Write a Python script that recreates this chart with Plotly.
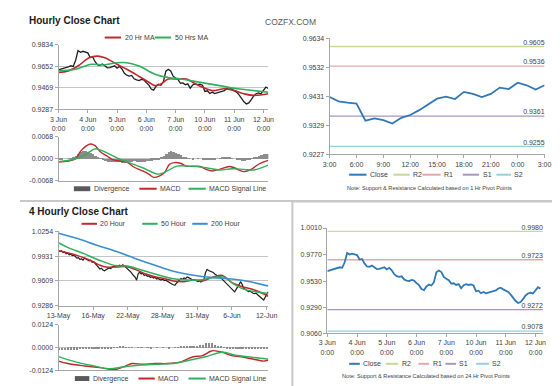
import plotly.graph_objects as go

FONT = "Arial, 'Liberation Sans', sans-serif"
W, H = 560, 386

# ---------------- DATA ----------------
# Hourly chart (hours since 3 Jun 0:00, trading time, 2-hour samples)
hourly_tick_labels = ["3 Jun<br>0:00", "4 Jun<br>0:00", "5 Jun<br>0:00", "6 Jun<br>0:00",
                      "7 Jun<br>0:00", "10 Jun<br>0:00", "11 Jun<br>0:00", "12 Jun<br>0:00"]
hourly_hours = list(range(0, 173, 2))
hourly_close = [0.9620, 0.9628, 0.9635, 0.9640, 0.9645, 0.9655, 0.9650, 0.9700, 0.9785, 0.9770,
                0.9778, 0.9772, 0.9765, 0.9725, 0.9730, 0.9690, 0.9662, 0.9660, 0.9670, 0.9655,
                0.9638, 0.9640, 0.9648, 0.9655, 0.9635, 0.9650, 0.9628, 0.9592, 0.9575, 0.9568,
                0.9573, 0.9545, 0.9535, 0.9530, 0.9540, 0.9535, 0.9512, 0.9493, 0.9458, 0.9449,
                0.9482, 0.9498, 0.9490, 0.9520, 0.9610, 0.9625, 0.9612, 0.9567, 0.9552, 0.9538,
                0.9507, 0.9510, 0.9495, 0.9502, 0.9465, 0.9493, 0.9502, 0.9495, 0.9500, 0.9490,
                0.9438, 0.9443, 0.9420, 0.9432, 0.9420, 0.9425, 0.9432, 0.9435, 0.9445, 0.9463,
                0.9470, 0.9455, 0.9440, 0.9432, 0.9408, 0.9375, 0.9350, 0.9332, 0.9340, 0.9368,
                0.9400, 0.9418, 0.9425, 0.9418, 0.9450, 0.9475, 0.9462]
ma20h_hours = [0, 8, 16, 25, 32, 38, 48, 56, 63, 74, 79, 84, 90, 97, 105, 110, 118, 126, 136, 144, 152, 160, 172]
ma20h_vals = [0.9598, 0.9612, 0.9653, 0.9723, 0.9737, 0.9723, 0.9668, 0.9626, 0.9584, 0.9515, 0.9487, 0.9501,
              0.9543, 0.9543, 0.9543, 0.9515, 0.9473, 0.9445, 0.9460, 0.9445, 0.9418, 0.9404, 0.9418]
ma50h_hours = [0, 14, 27, 37, 48, 56, 66, 79, 90, 100, 116, 132, 147, 160, 172]
ma50h_vals = [0.9612, 0.9626, 0.9668, 0.9662, 0.9681, 0.9681, 0.9653, 0.9584, 0.9556, 0.9543, 0.9515,
              0.9487, 0.9460, 0.9445, 0.9431]
macdh_hours = [0, 8, 14, 18, 22, 26, 30, 34, 40, 44, 50, 56, 61, 69, 74, 78, 83, 87, 91, 95, 100, 105,
               116, 121, 126, 132, 140, 144, 152, 158, 164, 172]
macdh_vals = [-0.0010, -0.0007, 0.0000, 0.0023, 0.0038, 0.0046, 0.0041, 0.0023, 0.0008, -0.0002, -0.0007,
              -0.0010, -0.0024, -0.0038, -0.0048, -0.0058, -0.0053, -0.0043, -0.0017, -0.0012, -0.0014,
              -0.0023, -0.0024, -0.0033, -0.0038, -0.0033, -0.0024, -0.0028, -0.0040, -0.0033, -0.0017, -0.0005]
signalh_hours = [0, 14, 22, 30, 37, 48, 58, 69, 82, 89, 97, 108, 121, 132, 142, 152, 160, 172]
signalh_vals = [-0.0009, 0.0000, 0.0013, 0.0031, 0.0023, 0.0003, -0.0012, -0.0028, -0.0048, -0.0038,
                -0.0023, -0.0023, -0.0028, -0.0035, -0.0031, -0.0033, -0.0035, -0.0020]
divh_vals = [-0.0001, -0.0001, 0.0000, 0.0000, 0.0001, 0.0002, 0.0004, 0.0008, 0.0014, 0.0020,
             0.0023, 0.0024, 0.0022, 0.0018, 0.0014, 0.0010, 0.0006, 0.0002, -0.0003, -0.0007,
             -0.0009, -0.0010, -0.0010, -0.0009, -0.0010, -0.0011, -0.0012, -0.0012, -0.0011, -0.0010,
             -0.0009, -0.0008, -0.0009, -0.0010, -0.0010, -0.0010, -0.0008, -0.0007, -0.0006, -0.0005,
             -0.0003, -0.0001, 0.0003, 0.0008, 0.0015, 0.0021, 0.0024, 0.0022, 0.0019, 0.0015,
             0.0011, 0.0007, 0.0003, 0.0001, 0.0000, -0.0001, 0.0000, 0.0001, 0.0000, -0.0002,
             -0.0004, -0.0005, -0.0005, -0.0004, -0.0002, 0.0000, 0.0002, 0.0004, 0.0005, 0.0004,
             0.0003, 0.0001, 0.0000, -0.0002, -0.0004, -0.0006, -0.0006, -0.0004, -0.0002, 0.0001,
             0.0004, 0.0007, 0.0010, 0.0012, 0.0014, 0.0015, 0.0015]

hourly_y_ticks = ["0.9287", "0.9469", "0.9652", "0.9834"]
macdh_y_ticks = ["-0.0068", "0.0000", "0.0068"]

# Last 24 hours (1 Hr pivots)
last24_tick_labels = ["3:00", "6:00", "9:00", "12:00", "15:00", "18:00", "21:00", "0:00", "3:00"]
last24_hours = list(range(25))
last24_close = [0.9428, 0.9413, 0.9408, 0.9405, 0.9345, 0.9353, 0.9347, 0.9335, 0.9355, 0.9365,
                0.9382, 0.9401, 0.9422, 0.9429, 0.9421, 0.9446, 0.9439, 0.9428, 0.9439, 0.9461,
                0.9456, 0.9478, 0.9469, 0.9454, 0.9469]
last24_y_ticks = ["0.9227", "0.9329", "0.9431", "0.9532", "0.9634"]
pivot_names = ["R2", "R1", "S1", "S2"]
pivots_1h = [0.9605, 0.9536, 0.9361, 0.9255]
pivots_24h = [0.9980, 0.9723, 0.9272, 0.9078]
daily_y_ticks = ["0.9060", "0.9290", "0.9530", "0.9770", "1.0010"]

# 4-hourly chart (bar index from 13 May)
h4_tick_labels = ["13-May", "16-May", "22-May", "28-May", "31-May", "6-Jun", "12-Jun"]
h4_close = [1.0005, 0.9990, 1.0002, 0.9978, 0.9985, 0.9962, 0.9970, 0.9950, 0.9958, 0.9938,
            0.9945, 0.9925, 0.9905, 0.9912, 0.9888, 0.9898, 0.9880, 0.9905, 0.9895, 0.9884,
            0.9870, 0.9878, 0.9852, 0.9858, 0.9830, 0.9805, 0.9790, 0.9765, 0.9775, 0.9752,
            0.9740, 0.9755, 0.9762, 0.9778, 0.9770, 0.9790, 0.9800, 0.9792, 0.9812, 0.9805,
            0.9815, 0.9800, 0.9818, 0.9805, 0.9790, 0.9765, 0.9748, 0.9730, 0.9700, 0.9680,
            0.9660, 0.9620, 0.9700, 0.9725, 0.9700, 0.9710, 0.9680, 0.9692, 0.9670, 0.9675,
            0.9655, 0.9665, 0.9648, 0.9655, 0.9635, 0.9642, 0.9630, 0.9622, 0.9635, 0.9615,
            0.9620, 0.9605, 0.9598, 0.9585, 0.9570, 0.9560, 0.9553, 0.9580, 0.9605, 0.9620,
            0.9640, 0.9628, 0.9648, 0.9640, 0.9660, 0.9652, 0.9640, 0.9630, 0.9618, 0.9625,
            0.9610, 0.9600, 0.9608, 0.9595, 0.9612, 0.9630, 0.9720, 0.9760, 0.9745, 0.9738,
            0.9728, 0.9720, 0.9700, 0.9690, 0.9670, 0.9665, 0.9650, 0.9630, 0.9610, 0.9590,
            0.9574, 0.9560, 0.9530, 0.9510, 0.9490, 0.9468, 0.9500, 0.9532, 0.9560, 0.9600,
            0.9560, 0.9510, 0.9500, 0.9485, 0.9470, 0.9478, 0.9460, 0.9450, 0.9445, 0.9452,
            0.9430, 0.9410, 0.9404, 0.9380, 0.9362, 0.9400, 0.9430, 0.9468]
h4_index = list(range(len(h4_close)))
ma20_4h_idx = [0, 13, 21, 27, 31, 38, 44, 50, 57, 63, 69, 75, 82, 88, 94, 101, 107, 113, 119, 126, 132, 137]
ma20_4h_vals = [1.0000, 0.9935, 0.9875, 0.9815, 0.9790, 0.9790, 0.9795, 0.9760, 0.9700, 0.9665, 0.9640,
                0.9610, 0.9600, 0.9620, 0.9610, 0.9660, 0.9680, 0.9590, 0.9540, 0.9505, 0.9460, 0.9410]
ma50_4h_idx = [0, 6, 17, 27, 38, 44, 52, 63, 75, 84, 94, 101, 109, 114, 120, 129, 137]
ma50_4h_vals = [1.0105, 1.0045, 0.9960, 0.9875, 0.9805, 0.9805, 0.9765, 0.9700, 0.9637, 0.9620, 0.9625,
                0.9655, 0.9655, 0.9574, 0.9510, 0.9468, 0.9446]
ma200_4h_idx = [0, 13, 25, 38, 50, 63, 75, 88, 101, 113, 126, 137]
ma200_4h_vals = [1.0229, 1.0156, 1.0073, 0.9990, 0.9901, 0.9812, 0.9735, 0.9684, 0.9653, 0.9634, 0.9595, 0.9544]
macd4_idx = [0, 6, 17, 27, 33, 38, 44, 48, 55, 63, 71, 80, 84, 88, 94, 99, 101, 107, 113, 121, 130, 134, 137]
macd4_vals = [-0.0074, -0.0087, -0.0100, -0.0109, -0.0118, -0.0118, -0.0100, -0.0087, -0.0091, -0.0087,
              -0.0087, -0.0078, -0.0063, -0.0050, -0.0044, -0.0022, -0.0017, -0.0026, -0.0044, -0.0053,
              -0.0068, -0.0074, -0.0068]
signal4_idx = [0, 11, 21, 33, 42, 52, 65, 75, 86, 96, 107, 115, 126, 137]
signal4_vals = [-0.0050, -0.0078, -0.0096, -0.0115, -0.0106, -0.0096, -0.0091, -0.0087, -0.0068, -0.0050,
                -0.0026, -0.0041, -0.0053, -0.0063]
div4_idx = list(range(0, 137, 2))
div4_vals = [-0.0012, -0.0013, -0.0011, -0.0010, -0.0010, -0.0009, -0.0009, -0.0008, -0.0007, -0.0006,
             -0.0006, -0.0005, -0.0005, -0.0004, -0.0004, -0.0003, -0.0002, -0.0001, 0.0002, 0.0004,
             0.0006, 0.0006, 0.0004, 0.0002, 0.0001, 0.0000, 0.0002, 0.0001, 0.0000, 0.0001,
             -0.0001, 0.0000, 0.0001, 0.0000, 0.0001, 0.0000, -0.0001, 0.0000, 0.0002, 0.0004,
             0.0006, 0.0008, 0.0010, 0.0009, 0.0008, 0.0010, 0.0014, 0.0018, 0.0024, 0.0026,
             0.0024, 0.0018, 0.0012, 0.0006, 0.0002, -0.0002, -0.0004, -0.0005, -0.0003, -0.0002,
             -0.0003, -0.0004, -0.0005, -0.0004, -0.0005, -0.0006, -0.0005, -0.0004, -0.0003]
h4_y_ticks = ["0.9286", "0.9609", "0.9931", "1.0254"]
macd4_y_ticks = ["-0.0124", "0.0000", "0.0124"]

# ---------------- STYLE ----------------
C_BLACK = "#1e1e1e"
C_RED = "#c0282d"
C_GREEN = "#2fb05a"
C_BLUE200 = "#3b8fd0"
C_CLOSE = "#2f78b8"
C_DIV = "#8c8c8c"
C_DIVLEG = "#5a5a5a"
PIVOT_COLORS = ["#c6d89c", "#e0aaa9", "#a696c2", "#93cfe0"]
GRID = "#c4c4c4"
AXL = "#a6a6a6"
TXT = "#404040"


def dx(p0, p1):
    return [p0 / W, p1 / W]


def dy(top, bottom):
    return [1 - bottom / H, 1 - top / H]


fig = go.Figure()

# ---- Top-left: hourly close + MAs
fig.add_trace(go.Scatter(x=hourly_hours, y=hourly_close, mode="lines", line=dict(color=C_BLACK, width=1.3),
                         xaxis="x", yaxis="y"))
fig.add_trace(go.Scatter(x=ma20h_hours, y=ma20h_vals, mode="lines", line=dict(color=C_RED, width=1.6, shape="spline"),
                         name="20 Hr MA", xaxis="x", yaxis="y"))
fig.add_trace(go.Scatter(x=ma50h_hours, y=ma50h_vals, mode="lines", line=dict(color=C_GREEN, width=1.6, shape="spline"),
                         name="50 Hrs MA", xaxis="x", yaxis="y"))

# ---- Top-left MACD
fig.add_trace(go.Bar(x=hourly_hours, y=divh_vals, width=2, marker=dict(color=C_DIV, line=dict(width=0)),
                     name="Divergence", xaxis="x2", yaxis="y2"))
fig.add_trace(go.Scatter(x=macdh_hours, y=macdh_vals, mode="lines", line=dict(color=C_RED, width=1.4, shape="spline"),
                         name="MACD", xaxis="x2", yaxis="y2"))
fig.add_trace(go.Scatter(x=signalh_hours, y=signalh_vals, mode="lines", line=dict(color=C_GREEN, width=1.4, shape="spline"),
                         name="MACD Signal Line", xaxis="x2", yaxis="y2"))

# ---- Top-right: last 24 hours with 1 Hr pivots
for nm, val, col in zip(pivot_names, pivots_1h, PIVOT_COLORS):
    fig.add_trace(go.Scatter(x=[last24_hours[0], last24_hours[-1]], y=[val, val], mode="lines+text",
                             text=["", f"{val:.4f}"], textposition="top left",
                             textfont=dict(size=7, color=TXT, family=FONT),
                             line=dict(color=col, width=1.3), name=nm, xaxis="x3", yaxis="y3",
                             cliponaxis=False))
fig.add_trace(go.Scatter(x=last24_hours, y=last24_close, mode="lines", line=dict(color=C_CLOSE, width=1.8),
                         name="Close", xaxis="x3", yaxis="y3"))

# ---- Bottom-left: 4-hourly close + MAs
fig.add_trace(go.Scatter(x=h4_index, y=h4_close, mode="lines", line=dict(color=C_BLACK, width=1.2),
                         xaxis="x4", yaxis="y4"))
fig.add_trace(go.Scatter(x=ma20_4h_idx, y=ma20_4h_vals, mode="lines", line=dict(color=C_RED, width=1.5, shape="spline"),
                         name="20 Hour", xaxis="x4", yaxis="y4"))
fig.add_trace(go.Scatter(x=ma50_4h_idx, y=ma50_4h_vals, mode="lines", line=dict(color=C_GREEN, width=1.5, shape="spline"),
                         name="50 Hour", xaxis="x4", yaxis="y4"))
fig.add_trace(go.Scatter(x=ma200_4h_idx, y=ma200_4h_vals, mode="lines", line=dict(color=C_BLUE200, width=1.6, shape="spline"),
                         name="200 Hour", xaxis="x4", yaxis="y4"))

# ---- Bottom-left MACD
fig.add_trace(go.Bar(x=div4_idx, y=div4_vals, width=1.1, marker=dict(color=C_DIV, line=dict(width=0)),
                     name="Divergence", xaxis="x5", yaxis="y5"))
fig.add_trace(go.Scatter(x=macd4_idx, y=macd4_vals, mode="lines", line=dict(color=C_RED, width=1.4, shape="spline"),
                         name="MACD", xaxis="x5", yaxis="y5"))
fig.add_trace(go.Scatter(x=signal4_idx, y=signal4_vals, mode="lines", line=dict(color=C_GREEN, width=1.4, shape="spline"),
                         name="MACD Signal Line", xaxis="x5", yaxis="y5"))

# ---- Bottom-right: hourly close with 24 Hr pivots
for nm, val, col in zip(pivot_names, pivots_24h, PIVOT_COLORS):
    fig.add_trace(go.Scatter(x=[0, 174], y=[val, val], mode="lines+text",
                             text=["", f"{val:.4f}"], textposition="top left",
                             textfont=dict(size=7, color=TXT, family=FONT),
                             line=dict(color=col, width=1.3), name=nm, xaxis="x6", yaxis="y6",
                             cliponaxis=False))
fig.add_trace(go.Scatter(x=hourly_hours, y=hourly_close, mode="lines", line=dict(color=C_CLOSE, width=1.8),
                         name="Close", xaxis="x6", yaxis="y6"))

fig.update_traces(showlegend=False, hoverinfo="skip")

# ---------------- AXES ----------------
tickfont = dict(size=7, color=TXT, family=FONT)


def yax(domain, labels, anchor, grid=True):
    vals = [float(t) for t in labels]
    return dict(domain=domain, anchor=anchor, range=[min(vals), max(vals)], tickvals=vals, ticktext=labels,
                showgrid=grid, gridcolor=GRID, gridwidth=1, zeroline=False, showline=True, linecolor=AXL,
                linewidth=1, ticks="outside", ticklen=3, tickcolor=AXL, tickfont=tickfont, fixedrange=True)


def xax(domain, anchor, rng, tickvals=None, ticktext=None, show=True):
    d = dict(domain=domain, anchor=anchor, range=rng, showgrid=False, zeroline=False, showline=True,
             linecolor=AXL, linewidth=1, tickfont=tickfont, fixedrange=True)
    if show:
        d.update(tickvals=tickvals, ticktext=ticktext, ticks="outside", ticklen=3, tickcolor=AXL)
    else:
        d.update(showticklabels=False, ticks="")
    return d


hourly_tickvals = [24 * k for k in range(len(hourly_tick_labels))]
h4_step = 137 / 6.05
h4_tickvals = [h4_step * k for k in range(len(h4_tick_labels))]

layout_axes = dict(
    xaxis=xax(dx(40, 258), "y", [0, 172], hourly_tickvals, hourly_tick_labels),
    yaxis=yax(dy(33.3, 99), hourly_y_ticks, "x"),
    xaxis2=xax(dx(40, 258), "y2", [0, 172], show=False),
    yaxis2=yax(dy(127.3, 171.7), macdh_y_ticks, "x2"),
    xaxis3=xax(dx(321.7, 545), "y3", [0, 24], [3 * k for k in range(9)], last24_tick_labels),
    yaxis3=yax(dy(26.7, 145), last24_y_ticks, "x3", grid=False),
    xaxis4=xax(dx(40, 258), "y4", [0, 137], h4_tickvals, h4_tick_labels),
    yaxis4=yax(dy(223.3, 299.3), h4_y_ticks, "x4"),
    xaxis5=xax(dx(40, 258), "y5", [0, 137], show=False),
    yaxis5=yax(dy(318.3, 365), macd4_y_ticks, "x5"),
    xaxis6=xax(dx(319.3, 543.3), "y6", [0, 174], hourly_tickvals, hourly_tick_labels),
    yaxis6=yax(dy(220, 327), daily_y_ticks, "x6", grid=False),
)

annotations = [
    dict(text="<b>Hourly Close Chart</b>", x=7 / W, y=1 - 9 / H, xref="paper", yref="paper",
         xanchor="left", yanchor="middle", showarrow=False, font=dict(size=10, color="#1a1a1a", family=FONT)),
    dict(text="<b>4 Hourly Close Chart</b>", x=7 / W, y=1 - 203 / H, xref="paper", yref="paper",
         xanchor="left", yanchor="middle", showarrow=False, font=dict(size=10, color="#1a1a1a", family=FONT)),
    dict(text="COZFX.COM", x=281 / W, y=1 - 10 / H, xref="paper", yref="paper",
         xanchor="center", yanchor="middle", showarrow=False, font=dict(size=8.5, color="#5a5a5a", family=FONT)),
    dict(text="Note: Support & Resistance Calculated based on 1 Hr Pivot Points", x=425 / W, y=1 - 179 / H,
         xref="paper", yref="paper", xanchor="center", yanchor="middle", showarrow=False,
         font=dict(size=5.6, color=TXT, family=FONT)),
    dict(text="Note: Support & Resistance Calculated based on 24 Hr Pivot Points", x=422 / W, y=1 - 371 / H,
         xref="paper", yref="paper", xanchor="center", yanchor="middle", showarrow=False,
         font=dict(size=5.6, color=TXT, family=FONT)),
]

shapes = [
    dict(type="line", xref="paper", yref="paper", x0=0, x1=1, y0=1 - 192.5 / H, y1=1 - 192.5 / H,
         line=dict(color="#c8c8c8", width=2)),
    dict(type="line", xref="paper", yref="paper", x0=0, x1=1, y0=1 - 384 / H, y1=1 - 384 / H,
         line=dict(color="#c8c8c8", width=2)),
    dict(type="rect", xref="paper", yref="paper", x0=283 / W, x1=557 / W, y0=1 - 384 / H, y1=1 - 193 / H,
         line=dict(color="#c8c8c8", width=2), fillcolor="rgba(0,0,0,0)"),
]


# ---- compact Excel-style legends (key sample + label)
def add_legend(yc, items):
    yp = 1 - yc / H
    for kind, color, x0, x1, label in items:
        if kind == "line":
            shapes.append(dict(type="line", xref="paper", yref="paper", x0=x0 / W, x1=x1 / W, y0=yp, y1=yp,
                               line=dict(color=color, width=2)))
        else:
            shapes.append(dict(type="rect", xref="paper", yref="paper", x0=x0 / W, x1=x1 / W,
                               y0=1 - (yc + 2.5) / H, y1=1 - (yc - 2.5) / H,
                               line=dict(width=0), fillcolor=color))
        annotations.append(dict(text=label, x=(x1 + 1.5) / W, y=yp, xref="paper", yref="paper",
                                xanchor="left", yanchor="middle", showarrow=False,
                                font=dict(size=7, color=TXT, family=FONT)))


add_legend(26, [("line", C_RED, 88, 105, "20 Hr MA"), ("line", C_GREEN, 140, 157, "50 Hrs MA")])
add_legend(180, [("box", C_DIVLEG, 56, 73, "Divergence"), ("line", C_RED, 124, 142, "MACD"),
                 ("line", C_GREEN, 175, 193, "MACD Signal Line")])
add_legend(165.7, [("line", C_CLOSE, 342, 360, "Close")] +
           [("line", c, a, b, n) for c, a, b, n in zip(PIVOT_COLORS, [388, 418, 460, 495], [405, 437, 477, 510], pivot_names)])
add_legend(215.7, [("line", C_RED, 64, 80, "20 Hour"), ("line", C_GREEN, 127, 143, "50 Hour"),
                   ("line", C_BLUE200, 179, 195, "200 Hour")])
add_legend(373.3, [("box", C_DIVLEG, 57, 72, "Divergence"), ("line", C_RED, 123, 140, "MACD"),
                   ("line", C_GREEN, 175, 193, "MACD Signal Line")])
add_legend(358.3, [("line", C_CLOSE, 342, 353, "Close")] +
           [("line", c, a, b, n) for c, a, b, n in zip(PIVOT_COLORS, [380, 414, 442, 474], [393, 425, 453, 487], pivot_names)])

fig.update_layout(
    width=W, height=H, margin=dict(l=0, r=0, t=0, b=0),
    paper_bgcolor="white", plot_bgcolor="white",
    font=dict(family=FONT, size=7, color=TXT),
    bargap=0, hovermode=False, showlegend=False,
    annotations=annotations, shapes=shapes,
    **layout_axes,
)

fig.write_html("out.html")
